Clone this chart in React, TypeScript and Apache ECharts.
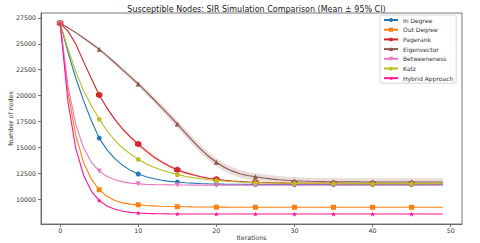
import React, { useEffect, useRef } from "react";
import * as echarts from "echarts";

const iterations = Array.from({ length: 50 }, (_, i) => i);

const seriesNames = ["In Degree", "Out Degree", "Pagerank", "Eigenvector", "Betweeneness", "Katz", "Hybrid Approach"];

const inDegree = [27000, 24190, 21700, 19510, 17560, 15890, 14750, 13900, 13260, 12770, 12420, 12160, 11960, 11820, 11710, 11640, 11580, 11535, 11500, 11475, 11455, 11440, 11430, 11422, 11416, 11412, 11408, 11405, 11403, 11402, 11400, 11400, 11400, 11400, 11400, 11400, 11400, 11400, 11400, 11400, 11400, 11400, 11400, 11400, 11400, 11400, 11400, 11400, 11400, 11400];

const outDegree = [27000, 20330, 16160, 13540, 11920, 10900, 10260, 9865, 9630, 9510, 9440, 9380, 9335, 9300, 9275, 9260, 9248, 9238, 9230, 9224, 9220, 9216, 9213, 9210, 9208, 9206, 9205, 9204, 9203, 9202, 9201, 9200, 9200, 9200, 9200, 9200, 9200, 9200, 9200, 9200, 9200, 9200, 9200, 9200, 9200, 9200, 9200, 9200, 9200, 9200];

const pagerank = [27000, 26230, 24990, 23280, 21650, 20060, 18790, 17700, 16770, 15990, 15310, 14650, 14070, 13590, 13170, 12830, 12550, 12340, 12150, 12010, 11900, 11810, 11740, 11690, 11645, 11610, 11587, 11567, 11551, 11540, 11531, 11525, 11520, 11516, 11513, 11510, 11508, 11506, 11505, 11504, 11503, 11502, 11501, 11500, 11500, 11500, 11500, 11500, 11500, 11500];

const eigenvector = [27000, 26560, 26080, 25560, 25030, 24470, 23830, 23170, 22490, 21810, 21120, 20380, 19620, 18840, 18050, 17250, 16420, 15600, 14820, 14130, 13550, 13080, 12720, 12450, 12270, 12150, 12040, 11950, 11870, 11810, 11770, 11740, 11715, 11695, 11680, 11670, 11663, 11658, 11655, 11652, 11650, 11650, 11650, 11650, 11650, 11650, 11650, 11650, 11650, 11650];

const betweeneness = [27000, 20940, 17220, 14950, 13560, 12700, 12180, 11860, 11660, 11540, 11466, 11420, 11395, 11378, 11366, 11358, 11352, 11348, 11345, 11343, 11341, 11340, 11340, 11340, 11340, 11340, 11340, 11340, 11340, 11340, 11340, 11340, 11340, 11340, 11340, 11340, 11340, 11340, 11340, 11340, 11340, 11340, 11340, 11340, 11340, 11340, 11340, 11340, 11340, 11340];

const katz = [27000, 24520, 22340, 20480, 19010, 17730, 16600, 15670, 14930, 14340, 13840, 13420, 13080, 12800, 12570, 12380, 12210, 12070, 11960, 11870, 11800, 11740, 11690, 11650, 11615, 11590, 11567, 11550, 11536, 11525, 11516, 11510, 11505, 11500, 11497, 11494, 11492, 11490, 11488, 11487, 11486, 11485, 11485, 11485, 11485, 11485, 11485, 11485, 11485, 11485];

const hybrid = [27000, 19400, 14900, 12300, 10750, 9870, 9330, 9010, 8820, 8710, 8650, 8610, 8590, 8575, 8565, 8558, 8555, 8552, 8550, 8550, 8550, 8550, 8550, 8550, 8550, 8550, 8550, 8550, 8550, 8550, 8550, 8550, 8550, 8550, 8550, 8550, 8550, 8550, 8550, 8550, 8550, 8550, 8550, 8550, 8550, 8550, 8550, 8550, 8550, 8550];

const eigenCI = [0, 30, 60, 90, 120, 150, 170, 190, 210, 230, 250, 270, 290, 310, 330, 350, 370, 380, 390, 390, 390, 380, 370, 360, 350, 350, 350, 350, 350, 350, 350, 350, 350, 350, 350, 350, 350, 350, 350, 350, 350, 350, 350, 350, 350, 350, 350, 350, 350, 350];

const pagerankCI = [0, 20, 40, 60, 80, 100, 120, 140, 150, 160, 170, 170, 170, 160, 150, 140, 130, 120, 110, 100, 90, 80, 70, 70, 70, 70, 70, 70, 70, 70, 70, 70, 70, 70, 70, 70, 70, 70, 70, 70, 70, 70, 70, 70, 70, 70, 70, 70, 70, 70];

const xTicks = [0, 10, 20, 30, 40, 50];
const yTicks = [10000, 12500, 15000, 17500, 20000, 22500, 25000, 27500];

const HEX = "path://M0,-1L0.866,-0.5L0.866,0.5L0,1L-0.866,0.5L-0.866,-0.5Z";
const PENT = "path://M0,-1L0.951,-0.309L0.588,0.809L-0.588,0.809L-0.951,-0.309Z";
const STAR = "path://M0,-1L0.235,-0.324L0.951,-0.309L0.380,0.124L0.588,0.809L0,0.4L-0.588,0.809L-0.380,0.124L-0.951,-0.309L-0.235,-0.324Z";

const FONT = "DejaVu Sans";

export default function App() {
  const ref = useRef<HTMLDivElement>(null);
  useEffect(() => {
    if (!ref.current) return;
    document.body.style.margin = "0";
    const chart = echarts.init(ref.current, null, { renderer: "svg" });

    const defs = [
      { name: seriesNames[0], data: inDegree, color: "#1f77b4", symbol: "circle", size: 5, rot: 0 },
      { name: seriesNames[1], data: outDegree, color: "#ff7f0e", symbol: "rect", size: 5, rot: 0 },
      { name: seriesNames[2], data: pagerank, color: "#d62728", symbol: HEX, size: 6.5, rot: 0 },
      { name: seriesNames[3], data: eigenvector, color: "#8c564b", symbol: "triangle", size: 5, rot: 0 },
      { name: seriesNames[4], data: betweeneness, color: "#e377c2", symbol: "triangle", size: 5, rot: 180 },
      { name: seriesNames[5], data: katz, color: "#bcbd22", symbol: PENT, size: 5, rot: 0 },
      { name: seriesNames[6], data: hybrid, color: "#ff1493", symbol: STAR, size: 5, rot: 0 },
    ];

    const band = (id: string, mean: number[], ci: number[], color: string) => ({
      type: "custom",
      name: id,
      silent: true,
      z: 1,
      data: [[iterations[0], mean[0]]],
      encode: { x: 0, y: 1 },
      renderItem: (params: any, api: any) => {
        const upper = iterations.map((i) => api.coord([i, mean[i] + ci[i]]));
        const lower = iterations.map((i) => api.coord([i, mean[i] - ci[i]])).reverse();
        return {
          type: "polygon",
          shape: { points: upper.concat(lower) },
          style: { fill: color, opacity: 0.2 },
        };
      },
    });

    const lineSeries = defs.map((d, k) => ({
      type: "line",
      name: d.name,
      data: iterations.map((i) => [i, d.data[i]]),
      symbol: d.symbol,
      symbolRotate: d.rot,
      symbolSize: (v: any, p: any) => (p.dataIndex % 5 === 0 ? d.size : 0),
      showSymbol: true,
      showAllSymbol: true,
      lineStyle: { color: d.color, width: 1.1 },
      itemStyle: { color: d.color },
      z: 2 + k,
      clip: false,
    }));

    chart.setOption({
      animation: false,
      textStyle: { fontFamily: FONT },
      title: {
        text: "Susceptible Nodes: SIR Simulation Comparison (Mean ± 95% CI)",
        left: 251.5,
        top: 0,
        textAlign: "center",
        textStyle: { fontSize: 8, fontWeight: "normal", color: "#222", fontFamily: FONT },
      },
      legend: {
        data: seriesNames,
        orient: "vertical",
        left: 380,
        top: 15,
        itemWidth: 14,
        itemHeight: 5,
        itemGap: 3.7,
        itemTextGap: 5,
        padding: [2, 3, 2, 3],
        borderColor: "#ccc",
        borderWidth: 0.8,
        borderRadius: 2,
        backgroundColor: "#fff",
        textStyle: { fontSize: 6, color: "#333", fontFamily: FONT },
      },
      grid: {
        left: 41,
        right: 18,
        top: 13,
        bottom: 19,
        show: true,
        borderColor: "#555",
        borderWidth: 0.8,
        containLabel: false,
        outerBoundsMode: "none",
      },
      xAxis: {
        type: "value",
        min: -2.45,
        max: 51.45,
        name: "Iterations",
        nameLocation: "middle",
        nameGap: 10,
        nameMoveOverlap: false,
        nameTextStyle: { fontSize: 6.3, color: "#333", fontFamily: FONT },
        axisLine: { show: true, onZero: false, lineStyle: { color: "#555", width: 0.8 } },
        axisTick: { show: true, customValues: xTicks, length: 3, lineStyle: { color: "#555", width: 0.8 } },
        axisLabel: { customValues: xTicks, fontSize: 6.3, color: "#333", margin: 3, formatter: (v: number) => String(v) },
        splitLine: { show: false },
      },
      yAxis: {
        type: "value",
        min: 7587,
        max: 27980,
        name: "Number of nodes",
        nameLocation: "middle",
        nameGap: 28,
        nameMoveOverlap: false,
        nameRotate: 90,
        nameTextStyle: { fontSize: 6.3, color: "#333", fontFamily: FONT },
        axisLine: { show: true, onZero: false, lineStyle: { color: "#555", width: 0.8 } },
        axisTick: { show: true, customValues: yTicks, length: 3, lineStyle: { color: "#555", width: 0.8 } },
        axisLabel: { customValues: yTicks, fontSize: 6.3, color: "#333", margin: 5, formatter: (v: number) => String(v) },
        splitLine: { show: false },
      },
      series: [
        band("eigenBand", eigenvector, eigenCI, "#8c564b"),
        band("pagerankBand", pagerank, pagerankCI, "#d62728"),
        ...lineSeries,
      ],
    });

    return () => chart.dispose();
  }, []);

  return (
    <div
      ref={ref}
      style={{ position: "fixed", left: 0, top: 0, width: 480, height: 243, background: "#fff" }}
    />
  );
}
